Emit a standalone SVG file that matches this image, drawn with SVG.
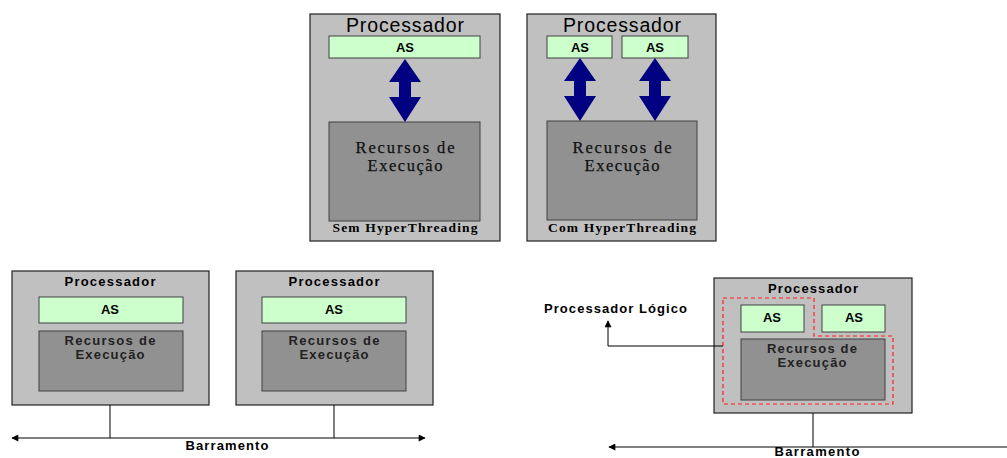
<svg xmlns="http://www.w3.org/2000/svg" width="1007" height="458" viewBox="0 0 1007 458">
<style>
.proc{fill:#c0c0c0;stroke:#202020;stroke-width:1.2}
.as{fill:#ccffcc;stroke:#404040;stroke-width:1}
.rec{fill:#919191;stroke:#404040;stroke-width:1}
.big{font-family:"Liberation Sans",Arial,sans-serif;font-size:19.5px;fill:#000;text-anchor:middle}
.b{font-family:"Liberation Sans",Arial,sans-serif;font-weight:bold;font-size:13px;fill:#000;text-anchor:middle}
.bl{font-family:"Liberation Sans",Arial,sans-serif;font-weight:bold;font-size:13px;fill:#000}
.rb{font-family:"Liberation Sans",Arial,sans-serif;font-weight:bold;font-size:13px;fill:#222;text-anchor:middle}
.serif{font-family:"Liberation Serif","Times New Roman",serif;font-size:16.5px;fill:#111;text-anchor:middle;stroke:#111;stroke-width:0.25}
.sb{font-family:"Liberation Serif","Times New Roman",serif;font-weight:bold;font-size:13.5px;fill:#000;text-anchor:middle}
.dbl{fill:#000080}
.ln{stroke:#000;stroke-width:1;fill:none}
</style>
<defs>
<marker id="ah" viewBox="0 0 10 10" refX="9" refY="5" markerWidth="10" markerHeight="7" markerUnits="userSpaceOnUse" orient="auto">
<path d="M0,0 L10,5 L0,10 z" fill="#000"/>
</marker>
<path id="dblarrow" d="M0,0 L16,23 L6,23 L6,38 L16,38 L0,63 L-16,38 L-6,38 L-6,23 L-16,23 z"/>
</defs>

<g id="proc-sem-ht">
<rect class="proc" x="310" y="14" width="190" height="227"/>
<text class="big" x="405" y="32" textLength="118" lengthAdjust="spacing">Processador</text>
<rect class="as" x="329" y="36" width="151" height="22"/>
<text class="b" x="405" y="52">AS</text>
<rect class="rec" x="329" y="122" width="151" height="99"/>
<text class="serif" x="405" y="153" textLength="99" lengthAdjust="spacing">Recursos de</text>
<text class="serif" x="405" y="171" textLength="75" lengthAdjust="spacing">Execução</text>
<text class="sb" x="405" y="232" textLength="145" lengthAdjust="spacing">Sem HyperThreading</text>
<use href="#dblarrow" class="dbl" x="405" y="59"/>
</g>

<g id="proc-com-ht">
<rect class="proc" x="527" y="14" width="189" height="227"/>
<text class="big" x="622" y="32" textLength="118" lengthAdjust="spacing">Processador</text>
<rect class="as" x="547" y="36" width="65" height="22"/>
<text class="b" x="580" y="52">AS</text>
<rect class="as" x="622" y="36" width="66" height="22"/>
<text class="b" x="655" y="52">AS</text>
<rect class="rec" x="547" y="121" width="150" height="99"/>
<text class="serif" x="622" y="153" textLength="99" lengthAdjust="spacing">Recursos de</text>
<text class="serif" x="622" y="171" textLength="75" lengthAdjust="spacing">Execução</text>
<text class="sb" x="622" y="232" textLength="148" lengthAdjust="spacing">Com HyperThreading</text>
<use href="#dblarrow" class="dbl" x="580" y="58"/>
<use href="#dblarrow" class="dbl" x="655" y="58"/>
</g>

<g id="proc-a">
<rect class="proc" x="12" y="271" width="197" height="134"/>
<text class="b" x="110" y="286" textLength="91" lengthAdjust="spacing">Processador</text>
<rect class="as" x="39" y="297" width="144" height="26"/>
<text class="b" x="110" y="314">AS</text>
<rect class="rec" x="39" y="331" width="144" height="60"/>
<text class="rb" x="110" y="345" textLength="91" lengthAdjust="spacing">Recursos de</text>
<text class="rb" x="110" y="359" textLength="69" lengthAdjust="spacing">Execução</text>
</g>

<g id="proc-b">
<rect class="proc" x="236" y="271" width="197" height="134"/>
<text class="b" x="334" y="286" textLength="91" lengthAdjust="spacing">Processador</text>
<rect class="as" x="262" y="297" width="144" height="26"/>
<text class="b" x="334" y="314">AS</text>
<rect class="rec" x="262" y="331" width="144" height="60"/>
<text class="rb" x="334" y="345" textLength="91" lengthAdjust="spacing">Recursos de</text>
<text class="rb" x="334" y="359" textLength="69" lengthAdjust="spacing">Execução</text>
</g>

<g id="proc-ht">
<rect class="proc" x="714" y="278" width="198" height="135"/>
<text class="b" x="813" y="293" textLength="90" lengthAdjust="spacing">Processador</text>
<rect class="as" x="741" y="305" width="63" height="27"/>
<text class="b" x="772" y="322">AS</text>
<rect class="as" x="822" y="305" width="63" height="27"/>
<text class="b" x="854" y="322">AS</text>
<rect class="rec" x="741" y="339" width="144" height="61"/>
<text class="rb" x="812" y="353" textLength="90" lengthAdjust="spacing">Recursos de</text>
<text class="rb" x="812" y="367" textLength="69" lengthAdjust="spacing">Execução</text>
<path d="M723,298 H814 V336 H893 V404 H723 Z" fill="none" stroke="#ff2020" stroke-width="1.2" stroke-dasharray="4,3"/>
</g>

<g id="labels">
<text class="b" x="227" y="450" textLength="83" lengthAdjust="spacing">Barramento</text>
<text class="bl" x="544" y="313" textLength="143" lengthAdjust="spacing">Processador Lógico</text>
<text class="b" x="817" y="456" textLength="85" lengthAdjust="spacing">Barramento</text>
</g>

<g id="connectors">
<line class="ln" x1="110" y1="405" x2="110" y2="438"/>
<line class="ln" x1="334" y1="405" x2="334" y2="438"/>
<line class="ln" x1="110" y1="438" x2="12" y2="438" marker-end="url(#ah)"/>
<line class="ln" x1="110" y1="438" x2="425" y2="438" marker-end="url(#ah)"/>
<polyline class="ln" points="723,346 608,346 608,321" marker-end="url(#ah)"/>
<line class="ln" x1="813" y1="413" x2="813" y2="447"/>
<line class="ln" x1="1007" y1="447" x2="609" y2="447" marker-end="url(#ah)"/>
</g>
</svg>
